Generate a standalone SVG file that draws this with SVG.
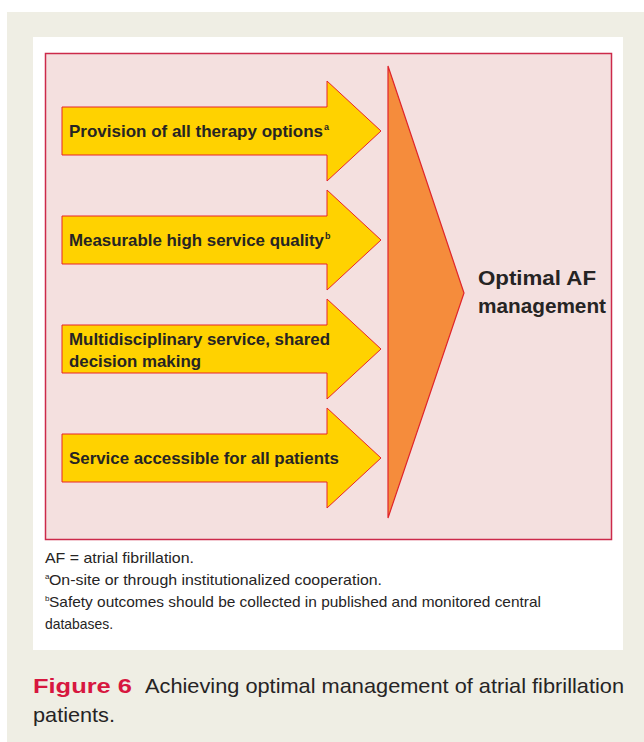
<svg xmlns="http://www.w3.org/2000/svg" width="644" height="742" viewBox="0 0 644 742">
<style>
.lbl{font-family:"Liberation Sans",Arial,sans-serif;font-weight:bold;font-size:17px;fill:#262424}
.sup{font-family:"Liberation Sans",Arial,sans-serif;font-weight:bold;font-size:9px;fill:#262424}
.big{font-family:"Liberation Sans",Arial,sans-serif;font-weight:bold;font-size:21px;fill:#262424}
.note{font-family:"Liberation Sans",Arial,sans-serif;font-size:14.5px;fill:#262424}
.nsup{font-family:"Liberation Sans",Arial,sans-serif;font-size:8px;fill:#262424}
.cap{font-family:"Liberation Sans",Arial,sans-serif;font-size:21px;fill:#262424}
.capb{font-family:"Liberation Sans",Arial,sans-serif;font-size:21px;font-weight:bold;fill:#d7173f}
.arrow{fill:#ffd200;stroke:#e8242b;stroke-width:1}
</style>
<defs>
<path id="arrowShape" d="M62,107 H327 V81 L381,131 L327,181 V155 H62 Z"/>
</defs>
<rect x="7" y="12" width="637" height="730" fill="#efeee4"/>
<rect x="33" y="37" width="590" height="613" fill="#ffffff"/>
<rect x="45.5" y="53.5" width="566" height="486" fill="#f4e0df" stroke="#cc2a4a" stroke-width="1.5"/>
<g id="node-provision">
<use href="#arrowShape" class="arrow"/>
<text class="lbl" x="69" y="137" textLength="254" lengthAdjust="spacingAndGlyphs">Provision of all therapy options</text>
<text class="sup" x="324" y="130">a</text>
</g>
<g id="node-quality">
<use href="#arrowShape" class="arrow" transform="translate(0,109)"/>
<text class="lbl" x="69" y="246" textLength="255" lengthAdjust="spacingAndGlyphs">Measurable high service quality</text>
<text class="sup" x="325" y="239">b</text>
</g>
<g id="node-multidisciplinary">
<use href="#arrowShape" class="arrow" transform="translate(0,218)"/>
<text class="lbl" x="69" y="345" textLength="261" lengthAdjust="spacingAndGlyphs">Multidisciplinary service, shared</text>
<text class="lbl" x="69" y="367" textLength="132" lengthAdjust="spacingAndGlyphs">decision making</text>
</g>
<g id="node-accessible">
<use href="#arrowShape" class="arrow" transform="translate(0,327)"/>
<text class="lbl" x="69" y="464" textLength="270" lengthAdjust="spacingAndGlyphs">Service accessible for all patients</text>
</g>
<g id="node-optimal">
<polygon points="388,66 464,293 388,518" fill="#f58c3c" stroke="#e0242b" stroke-width="1.2"/>
<text class="big" x="478" y="285" textLength="118" lengthAdjust="spacingAndGlyphs">Optimal AF</text>
<text class="big" x="478" y="313" textLength="128" lengthAdjust="spacingAndGlyphs">management</text>
</g>
<g id="footnotes">
<text class="note" x="45" y="563" textLength="149" lengthAdjust="spacingAndGlyphs">AF = atrial fibrillation.</text>
<text class="nsup" x="45" y="579">a</text>
<text class="note" x="49" y="585" textLength="333" lengthAdjust="spacingAndGlyphs">On-site or through institutionalized cooperation.</text>
<text class="nsup" x="45" y="601">b</text>
<text class="note" x="49" y="607" textLength="492" lengthAdjust="spacingAndGlyphs">Safety outcomes should be collected in published and monitored central</text>
<text class="note" x="45" y="629" textLength="68" lengthAdjust="spacingAndGlyphs">databases.</text>
</g>
<g id="caption">
<text class="capb" x="33" y="693" textLength="99" lengthAdjust="spacingAndGlyphs">Figure 6</text>
<text class="cap" x="145" y="693" textLength="479" lengthAdjust="spacingAndGlyphs">Achieving optimal management of atrial fibrillation</text>
<text class="cap" x="33" y="722" textLength="82" lengthAdjust="spacingAndGlyphs">patients.</text>
</g>
</svg>
